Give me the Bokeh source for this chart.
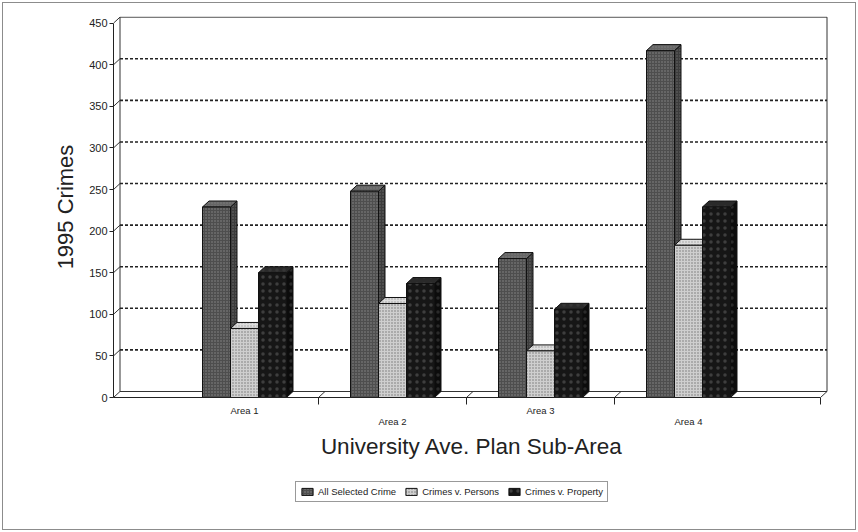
from bokeh.plotting import figure
from bokeh.layouts import column
from bokeh.models import Range1d, LinearAxis, FixedTicker, Legend, LegendItem, ColumnDataSource
from bokeh.embed import file_html
from bokeh.resources import INLINE

# ---------------- data ----------------
areas = ["Area 1", "Area 2", "Area 3", "Area 4"]
series_names = ["All Selected Crime", "Crimes v. Persons", "Crimes v. Property"]
all_selected = [229, 248, 167, 417]
persons = [83, 113, 56, 183]
property_crime = [150, 137, 106, 229]
y_ticks = [0, 50, 100, 150, 200, 250, 300, 350, 400, 450]
x_title = "University Ave. Plan Sub-Area"
y_title = "1995 Crimes"

# ---------------- geometry helpers ----------------
W = 858
MAIN_H, LEG_H = 475, 57
PX_PER_CAT = 148.0
FRAME_W, FRAME_H = 717, 381
LEFT, TOP = 113, 16
X0 = 1 - 131 / PX_PER_CAT
X1 = X0 + FRAME_W / PX_PER_CAT
Y_TOP = 458.0
PX_PER_Y = FRAME_H / Y_TOP
DX = 6.5 / PX_PER_CAT
DY = 6.0 / PX_PER_Y
BAR_W = 28 / PX_PER_CAT
X_END = X0 + 707 / PX_PER_CAT
Y_MAX = y_ticks[-1]

FONT = "Liberation Sans"
TXT = "#222222"

p = figure(width=W, height=MAIN_H,
           x_range=Range1d(X0, X1), y_range=Range1d(0, Y_TOP),
           x_axis_type=None, y_axis_type=None,
           output_backend="svg", toolbar_location=None,
           min_border_left=LEFT, min_border_top=TOP,
           min_border_right=W - LEFT - FRAME_W,
           min_border_bottom=MAIN_H - TOP - FRAME_H)
p.outline_line_color = None
p.background_fill_color = "white"
p.border_fill_alpha = 0

# ---------------- axes ----------------
yaxis = LinearAxis(ticker=FixedTicker(ticks=y_ticks), bounds=(0, Y_MAX), axis_label=y_title)
yaxis.major_tick_out = 4
yaxis.major_tick_in = 0
yaxis.minor_tick_out = 0
yaxis.major_label_standoff = 2
yaxis.major_label_text_font = FONT
yaxis.major_label_text_font_size = "11px"
yaxis.major_label_text_color = TXT
yaxis.axis_line_color = "#222"
yaxis.major_tick_line_color = "#222"
yaxis.axis_label_text_font = FONT
yaxis.axis_label_text_font_size = "22px"
yaxis.axis_label_text_font_style = "normal"
yaxis.axis_label_text_color = TXT
yaxis.axis_label_standoff = 8
p.add_layout(yaxis, "left")

xaxis1 = LinearAxis(ticker=FixedTicker(ticks=[1, 3], minor_ticks=[1.5, 2.5, 3.5, X_END]),
                    bounds=(X0, X_END))
xaxis1.major_label_overrides = {1: areas[0], 3: areas[2]}
xaxis1.major_tick_out = 0
xaxis1.major_tick_in = 0
xaxis1.minor_tick_out = 7
xaxis1.minor_tick_in = 0
xaxis1.major_label_standoff = 0
xaxis1.axis_line_color = "#222"
xaxis1.minor_tick_line_color = "#222"
xaxis1.major_label_text_font = FONT
xaxis1.major_label_text_font_size = "9.5px"
xaxis1.major_label_text_color = TXT
p.add_layout(xaxis1, "below")

xaxis2 = LinearAxis(ticker=FixedTicker(ticks=[2, 4]), axis_label=x_title)
xaxis2.major_label_overrides = {2: areas[1], 4: areas[3]}
xaxis2.axis_line_color = None
xaxis2.major_tick_line_color = None
xaxis2.minor_tick_line_color = None
xaxis2.major_tick_out = 0
xaxis2.major_label_standoff = -3
xaxis2.major_label_text_font = FONT
xaxis2.major_label_text_font_size = "9.5px"
xaxis2.major_label_text_color = TXT
xaxis2.axis_label_text_font = FONT
xaxis2.axis_label_text_font_size = "22.5px"
xaxis2.axis_label_text_font_style = "normal"
xaxis2.axis_label_text_color = TXT
xaxis2.axis_label_standoff = 4
p.add_layout(xaxis2, "below")

# ---------------- 3D walls, floor, gridlines ----------------
bx = X0 + DX
rx = X_END + DX
wall_x0 = [bx, bx, rx, bx]
wall_y0 = [DY, Y_MAX + DY, DY, DY]
wall_x1 = [bx, rx, rx, rx]
wall_y1 = [Y_MAX + DY, Y_MAX + DY, Y_MAX + DY, DY]
p.segment(wall_x0, wall_y0, wall_x1, wall_y1, line_color="#333", line_width=1)

p.segment([X0] * len(y_ticks), y_ticks, [bx] * len(y_ticks), [t + DY for t in y_ticks],
          line_color="#333", line_width=1)
floor_ticks = [1.5, 2.5, 3.5, X_END]
p.segment(floor_ticks, [0] * len(floor_ticks), [t + DX for t in floor_ticks], [DY] * len(floor_ticks),
          line_color="#333", line_width=1)

grid_vals = [t for t in y_ticks if 0 < t < Y_MAX]
p.segment([bx] * len(grid_vals), [t + DY for t in grid_vals],
          [rx] * len(grid_vals), [t + DY for t in grid_vals],
          line_color="#222", line_width=1.6, line_dash="3 2")

# ---------------- bars ----------------
series_vals = [all_selected, persons, property_crime]
offsets = [-BAR_W, 0.0, BAR_W]
front_style = [
    dict(fill_color="#4e4e4e", hatch_pattern=".", hatch_color="#8a8a8a", hatch_scale=3, hatch_weight=1),
    dict(fill_color="#cfcfcf", hatch_pattern=".", hatch_color="#757575", hatch_scale=3, hatch_weight=1),
    dict(fill_color="#161616", hatch_pattern=".", hatch_color="#3e3e3e", hatch_scale=7, hatch_weight=1),
]
side_fill = ["#3c3c3c", "#a9a9a9", "#0c0c0c"]
top_fill = ["#666666", "#dddddd", "#2a2a2a"]

for k, vals in enumerate(series_vals):
    xc = [i + 1 + offsets[k] for i in range(len(areas))]
    lefts = [x - BAR_W / 2 for x in xc]
    rights = [x + BAR_W / 2 for x in xc]
    side_xs = [[r, r + DX, r + DX, r] for r in rights]
    side_ys = [[0, DY, v + DY, v] for v in vals]
    top_xs = [[l, l + DX, r + DX, r] for l, r in zip(lefts, rights)]
    top_ys = [[v, v + DY, v + DY, v] for v in vals]
    for xs, ys, fc in ((side_xs, side_ys, side_fill[k]), (top_xs, top_ys, top_fill[k])):
        p.patches(xs, ys, fill_color=fc, line_color="#111", line_width=1,
                  hatch_pattern=front_style[k]["hatch_pattern"], hatch_color=front_style[k]["hatch_color"],
                  hatch_scale=front_style[k]["hatch_scale"], hatch_alpha=0.6)
    src = ColumnDataSource(dict(x=xc, top=vals))
    p.vbar(x="x", top="top", bottom=0, width=BAR_W, source=src,
           line_color="#111", line_width=1, **front_style[k])

# ---------------- legend strip (separate figure below the chart) ----------------
pl = figure(width=W, height=LEG_H, x_range=Range1d(0, 1), y_range=Range1d(0, 1),
            x_axis_type=None, y_axis_type=None, output_backend="svg", toolbar_location=None,
            min_border=0)
pl.outline_line_color = None
pl.background_fill_alpha = 0
pl.border_fill_alpha = 0
legend_items = []
for k in range(len(series_names)):
    # tiny swatch hidden behind the legend box; only its legend glyph is seen
    r = pl.vbar(x=[0.47], bottom=[0.66], top=[0.74], width=0.008,
                line_color="#111", line_width=1, **front_style[k])
    legend_items.append(LegendItem(label=series_names[k], renderers=[r]))

legend = Legend(items=legend_items, orientation="horizontal", location=(182, 30))
legend.label_text_font = FONT
legend.label_text_font_size = "9.5px"
legend.label_text_color = TXT
legend.label_height = 9
legend.label_standoff = 4
legend.glyph_width = 14
legend.glyph_height = 9
legend.spacing = 8
legend.padding = 4
legend.margin = 0
legend.border_line_color = "#333"
legend.border_line_width = 1
legend.background_fill_color = "white"
legend.background_fill_alpha = 1.0
pl.add_layout(legend, "center")

layout = column(p, pl, spacing=0)
layout.styles = {"background": "white",
                 "box-shadow": "inset 0 0 0 2px white, inset 0 0 0 3px #8c8c8c"}

open("out.html", "w").write(file_html(layout, INLINE))
